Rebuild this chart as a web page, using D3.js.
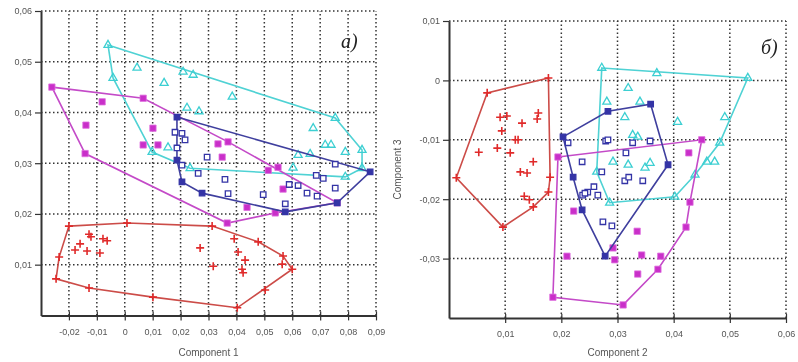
<!DOCTYPE html>
<html>
<head>
<meta charset="utf-8">
<script src="https://cdn.jsdelivr.net/npm/d3@7"></script>
<style>
  body { margin: 0; background: #fff; }
  text { font-family: Arial, "Liberation Sans", sans-serif; }
  #chart { filter: blur(0.35px); }
</style>
</head>
<body>
<svg id="chart" width="798" height="362"></svg>
<script>
// ---- panel a): Component 1 (x) vs Component 2 (y) ----
const xTicksA = [-0.02, -0.01, 0, 0.01, 0.02, 0.03, 0.04, 0.05, 0.06, 0.07, 0.08, 0.09];
const yTicksA = [0.01, 0.02, 0.03, 0.04, 0.05, 0.06];

const redHullA = [[-0.020, 0.0176], [0.0008, 0.0182], [0.0313, 0.0176], [0.0478, 0.0145], [0.0567, 0.0117],
  [0.060, 0.0091], [0.0403, 0.0015], [0.0101, 0.0036], [-0.0128, 0.0054], [-0.0246, 0.0072], [-0.0235, 0.0115]];
const redPtsA = [[-0.0128, 0.016], [-0.0121, 0.0155], [-0.016, 0.0141], [-0.0178, 0.0129], [-0.0135, 0.0127],
  [-0.0078, 0.0151], [-0.0063, 0.0147], [-0.0089, 0.0123], [0.027, 0.0133], [0.0392, 0.0151], [0.0406, 0.0125],
  [0.0431, 0.0109], [0.042, 0.0091], [0.0424, 0.0084], [0.0317, 0.0097], [0.0564, 0.0101], [0.0503, 0.005]];

const cyanHullA = [[-0.006, 0.0533], [0.0754, 0.0389], [0.085, 0.0326], [0.085, 0.029], [0.079, 0.0273],
  [0.0234, 0.029], [0.0098, 0.0322], [-0.0042, 0.0468]];
const cyanPtsA = [[0.0044, 0.0488], [0.0209, 0.048], [0.0245, 0.0474], [0.0141, 0.0458], [0.0385, 0.0431],
  [0.0223, 0.0409], [0.0266, 0.0402], [0.0675, 0.0369], [0.0718, 0.0336], [0.0739, 0.0336], [0.0621, 0.0316],
  [0.0664, 0.0318], [0.0155, 0.0331], [0.079, 0.0322], [0.0603, 0.0291]];

const magHullA = [[-0.0261, 0.045], [0.0066, 0.0428], [0.037, 0.0342], [0.0761, 0.0222], [0.0539, 0.0202],
  [0.0367, 0.0182], [-0.0142, 0.0319]];
const magPtsA = [[-0.0081, 0.0421], [-0.0139, 0.0375], [0.0101, 0.0369], [0.0066, 0.0336], [0.0119, 0.0336],
  [0.0334, 0.0338], [0.0349, 0.0312], [0.0514, 0.0286], [0.0549, 0.0292], [0.0567, 0.0249], [0.0438, 0.0213]];

const blueHullA = [[0.0187, 0.0391], [0.0879, 0.0283], [0.0761, 0.0222], [0.0575, 0.0204], [0.0277, 0.0241],
  [0.0205, 0.0263], [0.0187, 0.0306]];
const bluePtsA = [[0.018, 0.0361], [0.0205, 0.0359], [0.0216, 0.0346], [0.0187, 0.033], [0.0205, 0.0296],
  [0.0295, 0.0312], [0.0263, 0.028], [0.0359, 0.0268], [0.037, 0.024], [0.0496, 0.0238], [0.0575, 0.022],
  [0.0589, 0.0258], [0.0621, 0.0256], [0.0686, 0.0276], [0.0711, 0.027], [0.0653, 0.0241], [0.0689, 0.0235],
  [0.0754, 0.0251], [0.0754, 0.0298]];

// ---- panel б): Component 2 (x) vs Component 3 (y) ----
const xTicksB = [0.01, 0.02, 0.03, 0.04, 0.05, 0.06];
const yTicksB = [-0.03, -0.02, -0.01, 0, 0.01];

const redHullB = [[0.0177, 0.0004], [0.0068, -0.0021], [0.0013, -0.0164], [0.0096, -0.0247], [0.015, -0.0213],
  [0.0177, -0.0188], [0.018, -0.0163]];
const redPtsB = [[0.0091, -0.0062], [0.0103, -0.006], [0.0159, -0.0055], [0.0157, -0.0065], [0.013, -0.0072],
  [0.0094, -0.0085], [0.0118, -0.01], [0.0123, -0.01], [0.0053, -0.0121], [0.0086, -0.0114], [0.0109, -0.0122],
  [0.0127, -0.0154], [0.0139, -0.0156], [0.015, -0.0137], [0.0134, -0.0195], [0.0143, -0.0201]];

const cyanHullB = [[0.0272, 0.0021], [0.0532, 0.0004], [0.0482, -0.0105], [0.0438, -0.0159], [0.0402, -0.0196],
  [0.0286, -0.0206], [0.0263, -0.0154]];
const cyanPtsB = [[0.037, 0.0012], [0.0319, -0.0013], [0.0281, -0.0036], [0.034, -0.0036], [0.0407, -0.007],
  [0.0491, -0.0062], [0.0327, -0.0092], [0.0336, -0.0095], [0.0292, -0.0137], [0.0319, -0.0142],
  [0.0358, -0.0139], [0.0349, -0.0147], [0.0459, -0.0137], [0.0473, -0.0137], [0.0313, -0.0062]];

const magHullB = [[0.0194, -0.0129], [0.045, -0.01], [0.0429, -0.0205], [0.0422, -0.0247], [0.0372, -0.0318],
  [0.031, -0.0378], [0.0185, -0.0365]];
const magPtsB = [[0.0427, -0.0122], [0.0222, -0.022], [0.021, -0.0296], [0.0335, -0.0254], [0.0343, -0.0294],
  [0.0377, -0.0296], [0.0336, -0.0326], [0.0295, -0.0302], [0.0292, -0.0282]];

const blueHullB = [[0.0203, -0.0095], [0.0283, -0.0052], [0.0359, -0.004], [0.039, -0.0142], [0.0278, -0.0296],
  [0.0237, -0.0218], [0.0221, -0.0163]];
const bluePtsB = [[0.0212, -0.0105], [0.0237, -0.0137], [0.0279, -0.0102], [0.0283, -0.01], [0.0327, -0.0105],
  [0.0358, -0.0102], [0.0315, -0.0122], [0.0345, -0.0169], [0.0313, -0.0169], [0.0272, -0.0154], [0.032, -0.0163],
  [0.0238, -0.0193], [0.0247, -0.0188], [0.0258, -0.0179], [0.0265, -0.0193], [0.0242, -0.019],
  [0.0274, -0.0238], [0.029, -0.0245]];

const colors = {
  red:  { line: "#cc4c48", mark: "#e02a2a" },
  cyan: { line: "#4fd2d4", mark: "#3ccfd2" },
  mag:  { line: "#c44ac8", mark: "#c92fc9" },
  blue: { line: "#3f3f9e", mark: "#3434a6" }
};

const panels = [
  { xDomain: [-0.03, 0.09], yDomain: [0, 0.06], xRange: [41, 376], yRange: [315.4, 11],
    xTicks: xTicksA, yTicks: yTicksA, xLabel: "Component 1", yLabel: null, tag: "a)", tagX: 341, tagY: 48,
    groups: [
      { hull: redHullA, pts: redPtsA, kind: "cross", c: colors.red },
      { hull: cyanHullA, pts: cyanPtsA, kind: "tri", c: colors.cyan },
      { hull: magHullA, pts: magPtsA, kind: "fill", c: colors.mag },
      { hull: blueHullA, pts: bluePtsA, kind: "open", c: colors.blue }
    ] },
  { xDomain: [0, 0.06], yDomain: [-0.04, 0.01], xRange: [449, 786], yRange: [318, 21],
    xTicks: xTicksB, yTicks: yTicksB, xLabel: "Component 2", yLabel: "Component 3", tag: "б)", tagX: 761, tagY: 54,
    groups: [
      { hull: redHullB, pts: redPtsB, kind: "cross", c: colors.red },
      { hull: cyanHullB, pts: cyanPtsB, kind: "tri", c: colors.cyan },
      { hull: magHullB, pts: magPtsB, kind: "fill", c: colors.mag },
      { hull: blueHullB, pts: bluePtsB, kind: "open", c: colors.blue }
    ] }
];

const locale = d3.formatLocale({ decimal: ",", thousands: " ", grouping: [3], currency: ["", ""], minus: "-" });
const f2 = locale.format(".2f");
const tickFmt = t => (Math.abs(t) < 1e-9 ? "0" : f2(t));

const svg = d3.select("#chart");

panels.forEach(p => {
  const x = d3.scaleLinear().domain(p.xDomain).range(p.xRange);
  const y = d3.scaleLinear().domain(p.yDomain).range(p.yRange);
  const g = svg.append("g");

  // dotted grid
  g.append("g").selectAll("line").data(p.xTicks).join("line")
    .attr("x1", d => x(d)).attr("x2", d => x(d))
    .attr("y1", p.yRange[0]).attr("y2", p.yRange[1])
    .attr("stroke", "#333").attr("stroke-width", 1.5).attr("stroke-dasharray", "1.5,2.5");
  g.append("g").selectAll("line").data(p.yTicks).join("line")
    .attr("y1", d => y(d)).attr("y2", d => y(d))
    .attr("x1", p.xRange[0]).attr("x2", p.xRange[1])
    .attr("stroke", "#333").attr("stroke-width", 1.5).attr("stroke-dasharray", "1.5,2.5");

  // axes
  const ax = g.append("g").attr("transform", `translate(0,${p.yRange[0]})`)
    .call(d3.axisBottom(x).tickValues(p.xTicks).tickFormat(tickFmt).tickSize(5).tickSizeOuter(0).tickPadding(8));
  const ay = g.append("g").attr("transform", `translate(${p.xRange[0]},0)`)
    .call(d3.axisLeft(y).tickValues(p.yTicks).tickFormat(tickFmt).tickSize(6).tickSizeOuter(0).tickPadding(3));
  [ax, ay].forEach(a => {
    a.select(".domain").attr("stroke", "#333").attr("stroke-width", 2);
    a.selectAll(".tick line").attr("stroke", "#333").attr("stroke-width", 1.2);
    a.selectAll(".tick text").attr("fill", "#555").attr("font-size", 9);
  });
  ax.selectAll(".tick").append("line").attr("y2", -4).attr("stroke", "#333").attr("stroke-width", 1.2);

  // axis titles
  g.append("text").attr("x", (p.xRange[0] + p.xRange[1]) / 2).attr("y", 356)
    .attr("text-anchor", "middle").attr("font-size", 10).attr("fill", "#555").text(p.xLabel);
  if (p.yLabel) {
    g.append("text").attr("transform", `translate(401,${(p.yRange[0] + p.yRange[1]) / 2}) rotate(-90)`)
      .attr("text-anchor", "middle").attr("font-size", 10).attr("fill", "#555").text(p.yLabel);
  }

  // panel tag
  g.append("text").attr("x", p.tagX).attr("y", p.tagY)
    .style("font-family", "'Liberation Serif', 'DejaVu Serif', serif")
    .attr("font-style", "italic").attr("font-size", 20).attr("fill", "#222").text(p.tag);

  // groups: hull polygon + markers
  const line = d3.line().x(d => x(d[0])).y(d => y(d[1])).curve(d3.curveLinearClosed);
  p.groups.forEach(gr => {
    const gg = g.append("g");
    gg.append("path").attr("d", line(gr.hull))
      .attr("fill", "none").attr("stroke", gr.c.line).attr("stroke-width", 1.6);

    const all = gr.hull.map(d => ({ d, v: true })).concat(gr.pts.map(d => ({ d, v: false })));
    const m = gg.selectAll("path.m").data(all).join("path").attr("class", "m")
      .attr("transform", o => `translate(${x(o.d[0])},${y(o.d[1])})`);

    if (gr.kind === "cross") {
      m.attr("d", "M-4,0H4M0,-4V4").attr("stroke", gr.c.mark).attr("stroke-width", 1.6).attr("fill", "none");
    } else if (gr.kind === "tri") {
      m.attr("d", d3.symbol(d3.symbolTriangle, 28)).attr("fill", "none")
        .attr("stroke", gr.c.mark).attr("stroke-width", 1.3);
    } else if (gr.kind === "fill") {
      m.attr("d", d3.symbol(d3.symbolSquare, 40)).attr("fill", gr.c.mark).attr("stroke", "#e070e0").attr("stroke-width", 0.8);
    } else {
      m.attr("d", d3.symbol(d3.symbolSquare, 30))
        .attr("fill", o => (o.v ? gr.c.mark : "#fff")).attr("stroke", gr.c.mark).attr("stroke-width", 1.3);
    }
  });
});
</script>
</body>
</html>
